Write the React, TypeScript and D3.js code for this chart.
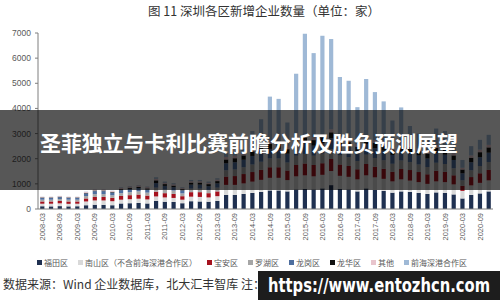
import React from 'react';
import * as d3 from 'd3';

const quarters = [
  '2008-03','2008-06','2008-09','2008-12','2009-03','2009-06','2009-09','2009-12',
  '2010-03','2010-06','2010-09','2010-12','2011-03','2011-06','2011-09','2011-12',
  '2012-03','2012-06','2012-09','2012-12','2013-03','2013-06','2013-09','2013-12',
  '2014-03','2014-06','2014-09','2014-12','2015-03','2015-06','2015-09','2015-12',
  '2016-03','2016-06','2016-09','2016-12','2017-03','2017-06','2017-09','2017-12',
  '2018-03','2018-06','2018-09','2018-12','2019-03','2019-06','2019-09','2019-12',
  '2020-03','2020-06','2020-09','2020-12'
];

const seriesNames = ['福田区','南山区（不含前海深港合作区）','宝安区','罗湖区','龙岗区','龙华区','其他','前海深港合作区'];
const seriesColors = ['#1f3050','#d9d9d9','#a5121e','#a6a6a6','#4e6e9e','#111111','#e8c4cc','#9fb9d6'];

const futian = [110,105,115,105,110,150,170,165,150,220,230,240,220,320,290,280,230,310,300,290,320,560,560,600,640,680,740,740,700,780,800,780,820,950,800,780,700,820,760,720,650,700,680,640,600,660,640,580,420,560,620,700];
const nanshan = [100,105,110,100,100,150,170,175,160,150,160,170,160,180,170,160,140,180,180,170,190,400,400,420,450,480,500,500,450,520,540,520,540,560,520,500,480,520,500,480,450,480,450,430,400,440,430,400,300,380,420,440];
const baoan = [90,90,95,95,90,120,140,140,135,150,160,165,155,190,170,160,140,180,190,170,190,330,350,370,380,400,420,420,380,450,470,450,460,480,450,430,400,450,420,400,380,410,420,400,380,420,410,360,200,330,380,420];
const luohu = [70,70,75,70,70,95,110,110,100,110,120,125,115,160,140,130,110,140,140,130,150,250,260,270,300,320,350,350,320,370,380,370,380,390,360,350,330,370,350,340,320,340,320,300,290,320,310,280,220,270,290,310];
const longgang = [70,70,75,70,70,105,120,120,110,120,130,135,125,180,150,140,120,160,160,150,170,280,290,300,340,360,380,380,350,400,420,400,420,430,400,390,370,410,390,380,350,380,380,360,340,380,370,330,280,320,350,370];
const longhua = [20,20,20,20,20,25,30,30,30,40,45,45,45,110,70,60,50,80,80,80,90,150,160,170,180,190,200,200,180,220,230,220,230,240,220,210,200,230,210,200,190,200,210,200,190,210,200,180,150,180,200,210];
const others = [25,25,25,25,25,35,35,35,35,50,50,55,50,60,50,50,40,55,55,50,60,100,100,100,110,110,110,110,100,120,120,120,120,120,110,110,100,110,110,100,100,100,100,90,90,100,100,90,70,90,100,100];
const qianhai = [5,5,5,5,5,10,10,10,10,20,20,20,20,60,50,45,30,50,50,50,50,150,165,150,700,1030,1770,1680,960,2520,4010,3340,3920,3590,2390,2330,1470,2260,1910,1660,1080,1430,740,580,510,670,640,480,310,370,390,400];

const yTicks = [0,1000,2000,3000,4000,5000,6000,7000];

const seriesValues = [futian, nanshan, baoan, luohu, longgang, longhua, others, qianhai];

export default function App() {
  const W = 500, H = 300;
  const rows = quarters.map((q, i) => {
    const r: any = { q };
    seriesNames.forEach((n, k) => { r[n] = seriesValues[k][i]; });
    return r;
  });
  const stack = d3.stack().keys(seriesNames)(rows as any);
  const x = d3.scaleBand().domain(quarters).range([38, 493]).paddingInner(0.52).paddingOuter(0.25);
  const y = d3.scaleLinear().domain([0, 7000]).range([209, 33]);
  const axisColor = '#7f7f7f';
  const labelColor = '#595959';
  const sans = '"Liberation Sans", Arial, sans-serif';
  const cjk = '"Noto Sans CJK SC", sans-serif';

  // legend layout
  let lx = 37;
  const legendItems = seriesNames.map((n, k) => {
    const item = { n, k, x: lx };
    lx += 7 + n.length * 8 + 10;
    return item;
  });

  return (
    <svg width={W} height={H} style={{ position: 'absolute', left: 0, top: 0, background: '#fff' }}>
      <rect x={0} y={0} width={W} height={H} fill="#fff" />
      <text x={264} y={16} textAnchor="middle" fontSize={12.5} fill="#333" fontFamily={cjk}>图 11  深圳各区新增企业数量（单位：家）</text>

      {stack.map((s, k) => (
        <g key={k} fill={seriesColors[k]}>
          {s.map((d, i) => (
            <rect key={i} x={x(quarters[i])} width={x.bandwidth()} y={y(d[1])} height={Math.max(0, y(d[0]) - y(d[1]))} />
          ))}
        </g>
      ))}

      {/* y axis */}
      <line x1={38} x2={38} y1={33} y2={209} stroke={axisColor} strokeWidth={1} />
      {yTicks.map(t => (
        <g key={t}>
          <line x1={35} x2={38} y1={y(t)} y2={y(t)} stroke={axisColor} />
          <text x={31} y={y(t)} dy="0.35em" textAnchor="end" fontSize={8.5} fill={labelColor} fontFamily={sans}>{t}</text>
        </g>
      ))}
      {/* x axis */}
      <line x1={38} x2={493} y1={209} y2={209} stroke={axisColor} strokeWidth={1} />
      {quarters.map((q, i) => i % 2 === 0 ? (
        <text key={q} transform={`translate(${(x(q) as number) + x.bandwidth() / 2},213) rotate(-90)`} textAnchor="end" dy="0.35em" fontSize={7.5} fill={labelColor} fontFamily={sans}>{q}</text>
      ) : null)}

      {/* legend */}
      {legendItems.map(it => (
        <g key={it.n}>
          <rect x={it.x} y={260} width={5} height={5} fill={seriesColors[it.k]} />
          <text x={it.x + 7} y={263} dy="0.35em" fontSize={8} fill={labelColor} fontFamily={cjk}>{it.n}</text>
        </g>
      ))}

      <text x={3} y={289} fontSize={12} fill="#333" fontFamily={cjk}>数据来源：Wind 企业数据库，北大汇丰智库 注：</text>

      {/* overlay banner */}
      <rect x={0} y={110} width={W} height={80} fill="rgba(0,0,0,0.66)" />
      <text x={249} y={151} textAnchor="middle" fontSize={21} fontWeight="bold" fill="#fff" fontFamily={cjk} textLength={418} lengthAdjust="spacingAndGlyphs">圣菲独立与卡利比赛前瞻分析及胜负预测展望</text>

      {/* watermark */}
      <rect x={258} y={271} width={242} height={29} fill="rgba(10,10,10,0.92)" />
      <text x={268} y={292} fontSize={19} fontWeight="bold" fill="#fff" fontFamily={'"DejaVu Sans", sans-serif'} textLength={222} lengthAdjust="spacingAndGlyphs">https://www.entozhcn.com</text>
    </svg>
  );
}
